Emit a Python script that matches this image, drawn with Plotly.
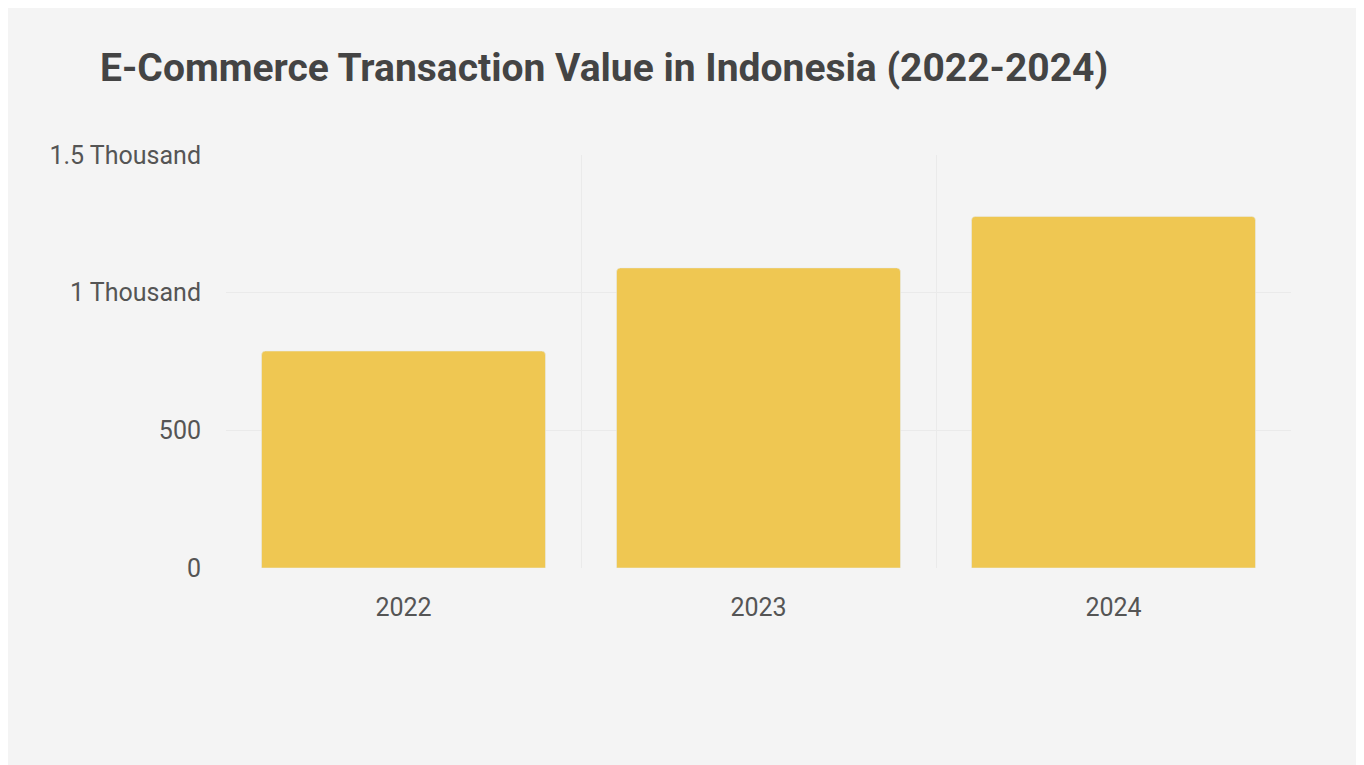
import plotly.graph_objects as go

# data
years = ['2022', '2023', '2024']
transaction_value = [788, 1090, 1277]
y_tick_values = [0, 500, 1000, 1500]
y_tick_labels = ['0', '500', '1 Thousand', '1.5 Thousand']

fig = go.Figure()

fig.add_trace(go.Bar(
    x=years,
    y=transaction_value,
    marker=dict(color='#EFC752', cornerradius=4),
    hovertemplate='%{x}: %{y}<extra></extra>'
))

fig.update_layout(
    width=1364,
    height=765,
    title=dict(
        text='<b>E-Commerce Transaction Value in Indonesia (2022-2024)</b>',
        x=0.0675, xanchor='left',
        y=0.923, yanchor='middle',
        font=dict(family='Roboto', size=39, color='#444444')
    ),
    paper_bgcolor='#f4f4f4',
    plot_bgcolor='#f4f4f4',
    font=dict(family='Roboto', size=25, color='#555555'),
    bargap=0.2,
    showlegend=False,
    margin=dict(l=218, r=81, t=147, b=205),
    xaxis=dict(
        showgrid=True, gridcolor='#eaeaea', tickson='boundaries',
        ticks='', showline=False, ticklabelstandoff=22
    ),
    yaxis=dict(
        range=[0, 1500],
        tickvals=y_tick_values,
        ticktext=y_tick_labels,
        showgrid=True, gridcolor='#eaeaea',
        zeroline=False, ticks='', ticklabelstandoff=24
    )
)

fig.write_html('out.html')
